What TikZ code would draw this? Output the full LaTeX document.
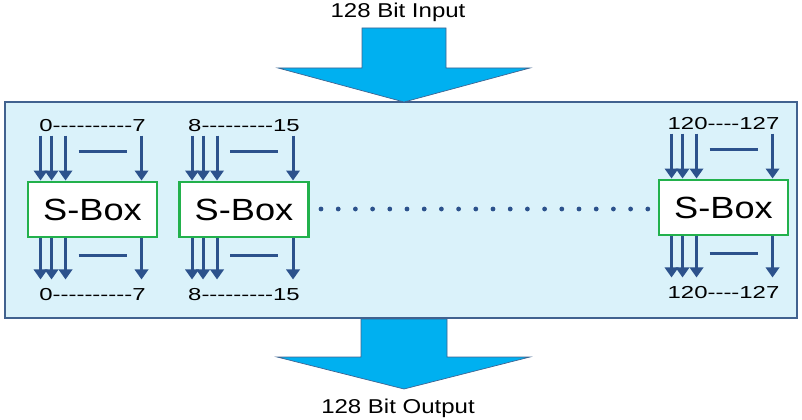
\documentclass[tikz,border=0pt]{standalone}
\usepackage{fontspec}
\setmainfont{Liberation Sans}[Ligatures=TeXOff]
\usetikzlibrary{arrows.meta, positioning, calc}
\definecolor{BlockCyan}{RGB}{0,176,240}
\definecolor{PanelFill}{RGB}{218,242,250}
\definecolor{PanelEdge}{RGB}{65,98,143}
\definecolor{WireNavy}{RGB}{44,82,140}
\definecolor{BoxGreen}{RGB}{34,177,76}

\begin{document}
\begin{tikzpicture}[x=0.75pt, y=-0.75pt,
	sbox/.style={draw=BoxGreen, line width=2.2pt, fill=white, inner sep=0pt,
		minimum width=96.75pt, minimum height=41.25pt,
		font=\fontsize{23}{23}\selectfont},
	wire/.style={WireNavy, line width=2.3pt, -{Triangle[width=10pt,length=7.5pt]}},
	bar/.style={WireNavy, line width=1.6pt},
	bits/.style={font=\fontsize{13}{13}\selectfont, inner sep=0pt,
		transform shape, xscale=1.38},
	caption/.style={font=\fontsize{15}{15}\selectfont, inner sep=0pt,
		transform shape, xscale=1.2},
	blockarrow/.style={fill=BlockCyan, draw=PanelEdge, line width=0.5pt}]
	\useasboundingbox (0,0) rectangle (802,420);

	% panel and the two wide arrows
	\draw[fill=PanelFill, draw=PanelEdge, line width=1.5pt] (5,102) rectangle (797,318);
	\draw[blockarrow] (362,28) -- (446,28) -- (446,68) -- (530,68) -- (404,102)
		-- (278,68) -- (362,68) -- cycle;
	\draw[blockarrow] (361,319) -- (447,319) -- (447,357) -- (530,357) -- (404,389)
		-- (277,357) -- (361,357) -- cycle;
	\node[caption] (in) at (398,12) {128 Bit Input};
	\node[caption] (out) at (398,408) {128 Bit Output};

	% s-boxes
	\foreach \n/\cx/\cy/\lbl in {a/92.5/209.5/0----------7, b/244/209.5/8---------15,
		c/723.5/207.5/120----127} {
		\node[sbox] (\n) at (\cx,\cy) {\scalebox{1.18}[1]{S-Box}};
		\node[bits] (\n-top) at ($(\n.north)+(0,-55)$) {\lbl};
		\node[bits] (\n-bot) at ($(\n.south)+(0,56)$) {\lbl};
		\foreach \dx [count=\k] in {14,25,39,115} {
			\coordinate (\n-in\k) at ($(\n.north west)+(\dx,-45)$);
			\coordinate (\n-out\k) at ($(\n.south west)+(\dx,41)$);
			\draw[wire] (\n-in\k) -- (\n-in\k |- \n.north);
			\draw[wire] (\n-out\k |- \n.south) -- (\n-out\k);
		}
		\draw[bar] ($(\n.north west)+(52,-29)$) -- ++(48,0);
		\draw[bar] ($(\n.south west)+(52,17)$) -- ++(48,0);
	}

	% dots between the second and last box
	\foreach \i in {0,...,19}
		\fill[WireNavy] (321+17.2*\i,209) circle[radius=1.8pt];
\end{tikzpicture}
\end{document}
